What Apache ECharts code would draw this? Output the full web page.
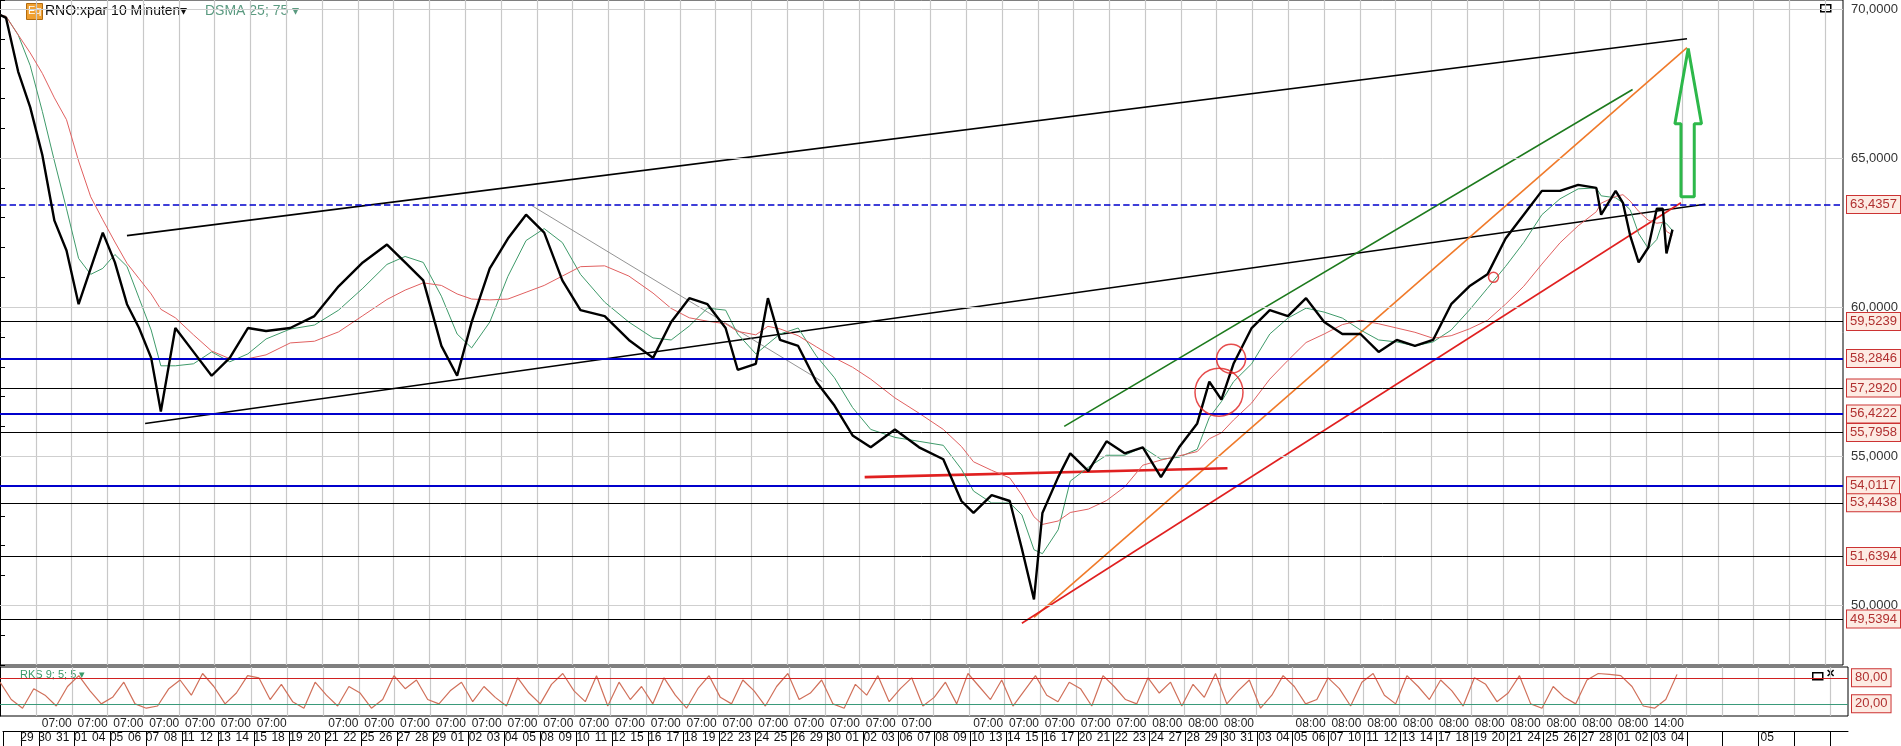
<!DOCTYPE html>
<html><head><meta charset="utf-8">
<script src="https://cdn.jsdelivr.net/npm/echarts@6/dist/echarts.min.js"></script>
<style>html,body{margin:0;padding:0;background:#fff}#c{width:1901px;height:746px}</style>
</head><body><div id="c"></div>
<script>
// price path (x in bar-time units, y price)
const priceT = [0,5,15,25,35,45,55,65,75,85,95,105,115,125,133,145,160,175,190,205,220,240,260,280,300,320,335,350,365,378,390,405,420,435,450,465,480,500,520,540,555,570,585,600,610,625,635,645,660,675,690,705,720,740,760,780,795,805,820,835,845,855,862,875,885,900,915,930,945,960,975,990,1000,1010,1020,1035,1050,1065,1080,1095,1110,1125,1140,1155,1170,1185,1200,1215,1230,1245,1260,1275,1290,1305,1320,1324,1336,1342,1348,1355,1363,1370,1375,1378,1383];
const priceV = [69.8,69.7,67.9,66.7,65.1,62.9,61.9,60.1,61.3,62.5,61.5,60.1,59.3,58.3,56.5,59.3,58.5,57.7,58.3,59.3,59.2,59.3,59.7,60.7,61.5,62.1,61.5,60.9,58.7,57.7,59.5,61.3,62.3,63.1,62.5,60.9,59.9,59.7,58.9,58.3,59.5,60.3,60.1,59.3,57.9,58.1,60.3,58.9,58.7,57.5,56.7,55.7,55.3,55.9,55.3,54.9,53.5,53.1,53.7,53.5,51.9,50.2,53.1,54.3,55.1,54.5,55.5,55.1,55.3,54.3,55.3,56.1,57.5,56.9,58.1,59.3,59.9,59.7,60.3,59.5,59.1,59.1,58.5,58.9,58.7,58.9,60.1,60.7,61.1,62.3,63.1,63.9,63.9,64.1,64.0,63.1,63.9,63.5,62.4,61.5,62.0,63.3,63.3,61.8,62.6];
// horizontal levels
const blueLevels = [63.4357,58.2846,56.4222,54.0117];
const blackLevels = [59.5239,57.2920,55.7958,53.4438,51.6394,49.5394];
// trend lines [x1,y1,x2,y2,color,width]
const trendLines = [
 [105,62.4,1395,69.0,'#000',1.6],
 [120,56.1,1410,63.45,'#000',1.4],
 [440,63.4,680,57.5,'#777',0.8],
 [880,56.0,1350,67.3,'#1d7a1d',1.6],
 [855,49.6,1395,68.7,'#f07a2a',1.6],
 [845,49.4,1390,63.5,'#e02020',1.6],
 [715,54.3,1015,54.6,'#e02020',2.6]
];
const circles = [[1008,57.15,48],[1018,58.27,29],[1235,61.0,10]];
const arrowX = [1396,1407,1401,1401,1390,1390,1385,1396];
const arrowY = [68.67,66.15,66.15,63.7,63.7,66.15,66.15,68.67];
// oscillator
const oscV = [70,30,10,55,40,15,60,85,50,20,35,70,20,10,15,55,75,40,90,60,20,45,85,80,30,65,25,10,70,40,15,60,45,10,30,85,55,75,30,20,50,70,25,60,35,15,80,45,20,65,90,50,25,85,15,70,30,60,20,80,40,10,55,85,35,20,75,50,15,60,90,30,45,75,20,10,65,40,85,25,55,80,15,35,70,20,90,60,30,75,15,50,85,40,25,70,55,15,85,60,30,20,80,45,70,15,65,35,90,20,50,75,10,40,85,60,20,30,80,55,15,70,90,40,20,85,60,30,75,50,15,80,65,25,45,85,20,10,60,35,20,75,90,88,85,60,15,10,30,88];
// axis labels
const dates = ['','29','30','31','01','04','05','06','07','08','11','12','13','14','15','18','19','20','21','22','25','26','27','28','29','01','02','03','04','05','08','09','10','11','12','15','16','17','18','19','22','23','24','25','26','29','30','01','02','03','06','07','08','09','10','13','14','15','16','17','20','21','22','23','24','27','28','29','30','31','03','04','05','06','07','10','11','12','13','14','17','18','19','20','21','24','25','26','27','28','01','02','03','04','','','','','05','','','',''];
const blankTimes = [1,17,53,71,86,90,92];
const N = dates.length; // 103 cells
const timeLabels = [];
for (let b=0;b<=N;b++){
  let s='';
  if (b>=3 && b%2===1 && b<92 && !blankTimes.includes(b) ) s = b<65?'07:00':'08:00';
  if (b===93) s='14:00';
  timeLabels.push(s);
}
const oscT = oscV.map((v,i)=>i*1383/(oscV.length-1));
function sma(a,w){return a.map((v,i)=>{const s=a.slice(Math.max(0,i-w+1),i+1);return s.reduce((p,q)=>p+q,0)/s.length;});}
const ma1 = sma(priceV,3), ma2 = sma(priceV,7);
const fmt = v => v.toFixed(4).replace('.',',');

const ch = echarts.init(document.getElementById('c'));
const boxLabel = (t)=>({show:true,position:'end',distance:4,formatter:t,color:'#b03030',fontSize:13,fontFamily:'Arial',backgroundColor:'#fdebe3',borderColor:'#cc3333',borderWidth:1,padding:[2,3]});
const levels = [];
blueLevels.forEach(v=>levels.push({yAxis:v,lineStyle:{color:'#0000cc',width:v===63.4357?1.6:2,type:v===63.4357?'dashed':'solid'},label:boxLabel(fmt(v))}));
blackLevels.forEach(v=>levels.push({yAxis:v,lineStyle:{color:'#000',width:1,type:'solid'},label:boxLabel(fmt(v))}));
[50,55,60,65,70].forEach(v=>levels.push({yAxis:v,lineStyle:{color:'#cfcfcf',width:1,type:'solid'},label:{show:false}}));

const gridX = (gi,show)=>({type:'category',gridIndex:gi,data:timeLabels,boundaryGap:false,axisLine:{show:false},axisTick:{show:false},axisLabel:{show:false},
  splitLine:{show:true,interval:(i)=>i%2===0&&i>0,lineStyle:{color:'#c8c8c8',width:1.2}}});
const series = [
  {type:'line',xAxisIndex:0,yAxisIndex:0,data:priceT.map((t,i)=>[t,priceV[i]]),symbol:'none',lineStyle:{color:'#000',width:2.4},z:5,
   markLine:{silent:true,symbol:'none',data:levels,animation:false}},
  {type:'line',xAxisIndex:0,yAxisIndex:0,data:priceT.map((t,i)=>[t,ma1[i]]),symbol:'none',lineStyle:{color:'#3f9a6a',width:1},z:4},
  {type:'line',xAxisIndex:0,yAxisIndex:0,data:priceT.map((t,i)=>[t,ma2[i]]),symbol:'none',lineStyle:{color:'#e06060',width:1},z:4},
  {type:'line',xAxisIndex:0,yAxisIndex:0,data:arrowX.map((x,i)=>[x,arrowY[i]]),symbol:'none',lineStyle:{color:'#2db84a',width:3},z:6},
  {type:'scatter',xAxisIndex:0,yAxisIndex:0,data:circles.map(c=>({value:[c[0],c[1]],symbolSize:c[2]})),itemStyle:{color:'rgba(0,0,0,0)',borderColor:'#e02020',borderWidth:1.5},z:7},
  {type:'line',xAxisIndex:2,yAxisIndex:1,data:oscT.map((t,i)=>[t,oscV[i]]),symbol:'none',lineStyle:{color:'#d0705a',width:1.2},
   markLine:{silent:true,symbol:'none',animation:false,data:[
     {yAxis:80,lineStyle:{color:'#d02020',width:1.2,type:'solid'},label:boxLabel('80,00')},
     {yAxis:20,lineStyle:{color:'#3a9a7a',width:1.2,type:'solid'},label:boxLabel('20,00')}]}}
];
trendLines.forEach(l=>series.push({type:'line',xAxisIndex:0,yAxisIndex:0,data:[[l[0],l[1]],[l[2],l[3]]],symbol:'none',lineStyle:{color:l[4],width:l[5]},z:3}));

ch.setOption({
  animation:false,
  grid:[
    {left:0,right:53,top:0,height:665,show:true,borderColor:'#000',borderWidth:1},
    {left:0,right:53,top:667,height:49,show:true,borderColor:'#000',borderWidth:1},
    {left:0,right:53,top:716,height:15},
    {left:0,right:53,top:731,height:15}
  ],
  xAxis:[
    {type:'value',gridIndex:0,min:0,max:1524,show:false},
    gridX(0),
    {type:'value',gridIndex:1,min:0,max:1524,show:false},
    gridX(1),
    {type:'category',gridIndex:2,data:timeLabels,boundaryGap:false,position:'top',axisLine:{show:true,lineStyle:{color:'#000'}},
      axisTick:{show:true,inside:true,length:15,interval:(i)=>(i%2===0||i===1)&&i<=103,lineStyle:{color:'#000'}},
      axisLabel:{show:true,inside:true,interval:0,margin:2,color:'#222',fontSize:12,fontFamily:'Arial',formatter:v=>v},splitLine:{show:false}},
    {type:'category',gridIndex:3,data:dates,boundaryGap:true,position:'top',axisLine:{show:true,lineStyle:{color:'#000'}},
      axisTick:{show:true,inside:true,length:15,interval:(i)=>i<=93,lineStyle:{color:'#000'}},
      axisLabel:{show:true,inside:true,interval:0,margin:1,color:'#111',fontSize:12,fontFamily:'Arial'},splitLine:{show:false}}
  ],
  yAxis:[
    {type:'value',gridIndex:0,position:'right',min:48,max:70.3,interval:1,
      axisLine:{show:true,lineStyle:{color:'#000'}},axisTick:{show:true,length:5,lineStyle:{color:'#000'}},
      axisLabel:{color:'#333',fontSize:13,fontFamily:'Arial',margin:8,formatter:v=>(Math.abs(v%5)<1e-6)?fmt(v):''},splitLine:{show:false}},
    {type:'value',gridIndex:1,position:'right',min:-8,max:105,axisLine:{show:true,lineStyle:{color:'#000'}},axisLabel:{show:false},axisTick:{show:false},splitLine:{show:false}},
    {type:'value',gridIndex:2,show:false},
    {type:'value',gridIndex:3,show:false}
  ],
  graphic:[
    {type:'rect',left:26,top:3,shape:{width:16,height:16},style:{fill:'#f0a030',stroke:'#b06a10'}},
    {type:'text',left:28,top:5,style:{text:'Eq',fill:'#fff',font:'11px Arial'}},
    {type:'text',left:45,top:4,style:{text:'RNO:xpar 10 Minuten▾',fill:'#111',font:'14px Arial'}},
    {type:'text',left:205,top:4,style:{text:'DSMA 25; 75 ▾',fill:'#5a9a80',font:'14px Arial'}},
    {type:'text',left:20,top:669,style:{text:'RKS 9; 5; 5 ▾',fill:'#3a9a6a',font:'11px Arial'}},
    {type:'rect',left:1820,top:4,shape:{width:10,height:7},style:{fill:'#fff',stroke:'#000',lineWidth:1.5}},
    {type:'rect',left:1812,top:672,shape:{width:10,height:7},style:{fill:'#fff',stroke:'#000',lineWidth:1.5}},
    {type:'text',left:1826,top:668,style:{text:'✕',fill:'#000',font:'bold 11px Arial'}}
  ],
  series
});
</script></body></html>
